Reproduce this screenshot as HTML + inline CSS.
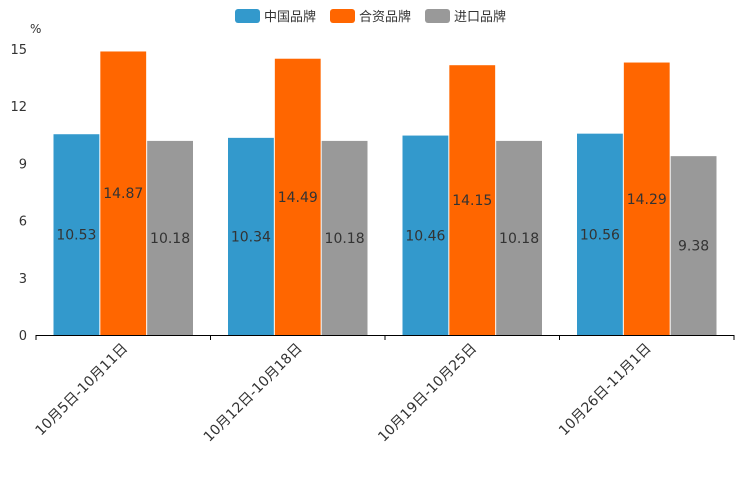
<!DOCTYPE html>
<html><head><meta charset="utf-8">
<style>
body{margin:0;background:#fff;}
svg{display:block;font-family:"DejaVu Sans","Noto Sans CJK SC",sans-serif;}
</style></head>
<body>
<svg id="chart" width="744" height="496">
<g id="legend"></g>
<text x="30" y="33" font-size="12" fill="#333">%</text>
<g id="axes"></g>
<g id="bars"></g>
</svg>
<script>
const categories = ["10月5日-10月11日","10月12日-10月18日","10月19日-10月25日","10月26日-11月1日"];
const seriesNames = ["中国品牌","合资品牌","进口品牌"];
const domestic = [10.53,10.34,10.46,10.56];
const jointVenture = [14.87,14.49,14.15,14.29];
const imported = [10.18,10.18,10.18,9.38];
const yTicks = [0,3,6,9,12,15];
const colors = ["#3399cc","#ff6600","#999999"];
const series = [domestic, jointVenture, imported];

const NS="http://www.w3.org/2000/svg";
const svg=document.getElementById('chart');
const x0=36,x1=734,y0=335,yTop=49,yMax=15;
const yScale=v=>y0-(v/yMax)*(y0-yTop);
const band=(x1-x0)/categories.length;
const pad=17,bw=(band-2*pad)/3;
function mk(tag,attrs,parent){const e=document.createElementNS(NS,tag);for(const k in attrs)e.setAttribute(k,attrs[k]);parent.appendChild(e);return e;}
const axes=document.getElementById('axes'),bars=document.getElementById('bars'),legend=document.getElementById('legend');

yTicks.forEach(t=>{
  const tx=mk('text',{x:27,y:yScale(t)+5,'font-size':13,fill:'#333','text-anchor':'end'},axes);
  
  
  tx.textContent=t;
});
const ax=mk('line',{x1:x0,x2:x1,y1:y0+0.5,y2:y0+0.5,stroke:'#000','stroke-width':1},axes);


for(let i=0;i<=categories.length;i++){
  const tk=mk('line',{x1:x0+i*band,x2:x0+i*band,y1:y0,y2:y0+5,stroke:'#000'},axes);
  
  
}
categories.forEach((c,i)=>{
  const cx=x0+i*band+band/2;
  const t=mk('text',{x:cx+5,y:y0+14,'font-size':14,fill:'#333','text-anchor':'end',transform:`rotate(-45 ${cx+5} ${y0+14})`},axes);
  
  
  t.textContent=c;
  series.forEach((s,j)=>{
    const v=s[i];
    const bx=x0+i*band+pad+j*bw;
    const r=mk('rect',{x:bx+0.5,y:yScale(v),width:bw-1,height:y0-yScale(v),fill:colors[j]},bars);
    
    
    const lb=mk('text',{x:bx+bw/2,y:(yScale(v)+y0)/2+5,'font-size':14,fill:'#333','text-anchor':'middle'},bars);
    
    
    lb.textContent=v.toFixed(2);
  });
});
const lx=[235,330,425];
seriesNames.forEach((n,j)=>{
  const r=mk('rect',{x:lx[j],y:9,width:25,height:14,rx:3,fill:colors[j]},legend);
  
  
  const t=mk('text',{x:lx[j]+29,y:21,'font-size':13,fill:'#333'},legend);
  
  
  t.textContent=n;
});
</script>
</body></html>
